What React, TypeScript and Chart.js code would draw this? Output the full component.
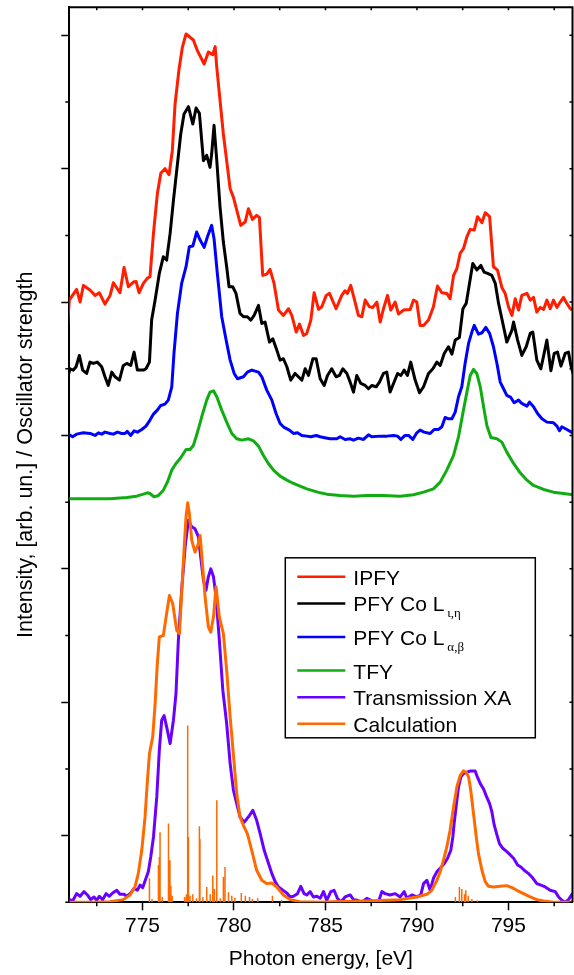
import React, { useEffect, useRef } from "react";
import { Chart, registerables } from "chart.js";

Chart.register(...registerables);

const FONT = "'Liberation Sans', Arial, Helvetica, sans-serif";

// Axis ranges and ticks
const X_MIN = 771;
const X_MAX = 798.5;
const Y_MIN = 0;
const Y_MAX = 13.42;
const X_MAJOR_TICKS = [775, 780, 785, 790, 795];
const X_MINOR_TICKS = [772.5, 777.5, 782.5, 787.5, 792.5, 797.5];
const Y_MAJOR_TICKS = [1, 3, 5, 7, 9, 11, 13];
const Y_MINOR_TICKS = [0, 2, 4, 6, 8, 10, 12];

// IPFY
const IPFY_E = [770.85, 771.0, 771.4, 771.59, 771.77, 772.13, 772.41, 772.64, 772.95, 773.23, 773.41, 773.77, 773.99, 774.23, 774.5, 774.65, 774.81, 775.05, 775.27, 775.41, 775.6, 775.81, 776.0, 776.23, 776.45, 776.63, 776.78, 777.0, 777.18, 777.38, 777.78, 778.0, 778.37, 778.6, 778.84, 778.97, 779.06, 779.42, 779.79, 779.97, 780.37, 780.61, 780.79, 781.01, 781.24, 781.39, 781.57, 781.79, 781.97, 782.19, 782.43, 782.7, 782.98, 783.16, 783.4, 783.58, 783.8, 783.98, 784.2, 784.38, 784.62, 784.8, 785.04, 785.22, 785.58, 785.89, 786.07, 786.2, 786.38, 786.57, 786.8, 786.99, 787.17, 787.4, 787.59, 787.81, 787.99, 788.17, 788.39, 788.57, 788.81, 788.99, 789.26, 789.63, 789.81, 789.99, 790.17, 790.36, 790.63, 790.9, 791.12, 791.36, 791.63, 791.81, 792.0, 792.18, 792.36, 792.54, 792.73, 792.91, 793.13, 793.31, 793.55, 793.73, 793.97, 794.18, 794.4, 794.64, 794.82, 795.0, 795.19, 795.37, 795.55, 795.73, 796.01, 796.19, 796.37, 796.55, 796.74, 796.92, 797.1, 797.28, 797.46, 797.65, 797.83, 798.01, 798.19, 798.38, 798.56];
const IPFY_I = [8.45, 9.03, 9.19, 9.0, 9.25, 9.18, 9.1, 9.14, 8.97, 9.1, 9.29, 9.14, 9.52, 9.23, 9.3, 9.31, 9.14, 9.28, 9.36, 9.38, 10.03, 10.62, 10.93, 11.0, 10.91, 11.27, 11.97, 12.5, 12.82, 13.02, 12.93, 12.77, 12.57, 12.75, 12.71, 12.83, 12.52, 11.52, 10.7, 10.57, 10.15, 10.2, 10.4, 10.24, 10.3, 10.27, 9.4, 9.42, 9.49, 9.28, 8.88, 8.8, 8.9, 8.8, 8.55, 8.67, 8.5, 8.53, 8.73, 9.14, 8.89, 8.93, 9.1, 9.13, 8.9, 9.1, 9.17, 9.13, 9.25, 9.05, 8.8, 8.78, 9.03, 8.93, 8.92, 9.0, 8.7, 8.9, 9.1, 8.88, 9.0, 8.82, 8.88, 8.89, 9.03, 9.0, 8.65, 8.65, 8.73, 8.93, 9.24, 9.14, 9.13, 9.05, 9.4, 9.5, 9.73, 9.8, 9.98, 10.09, 10.08, 10.28, 10.19, 10.34, 10.28, 9.53, 9.48, 9.22, 9.13, 8.93, 8.8, 9.05, 8.88, 9.1, 9.13, 9.03, 9.07, 8.85, 8.92, 8.89, 9.03, 8.9, 9.03, 8.92, 9.0, 9.07, 8.98, 8.9, 8.88];

// PFY Co L iota,eta
const PFYIE_E = [770.9, 771.04, 771.22, 771.37, 771.55, 771.73, 771.95, 772.13, 772.31, 772.53, 772.77, 772.95, 773.13, 773.32, 773.5, 773.74, 773.95, 774.14, 774.36, 774.54, 774.72, 775.05, 775.19, 775.38, 775.5, 775.69, 775.92, 776.14, 776.32, 776.51, 776.69, 776.91, 777.09, 777.27, 777.51, 777.75, 777.93, 778.11, 778.33, 778.51, 778.69, 778.78, 778.91, 779.06, 779.24, 779.42, 779.6, 779.73, 779.93, 780.11, 780.33, 780.52, 780.73, 780.92, 781.1, 781.34, 781.52, 781.7, 781.94, 782.12, 782.34, 782.52, 782.7, 782.89, 783.1, 783.34, 783.52, 783.71, 783.89, 784.07, 784.31, 784.49, 784.71, 784.93, 785.11, 785.34, 785.58, 785.76, 785.95, 786.17, 786.35, 786.53, 786.71, 786.93, 787.17, 787.35, 787.53, 787.77, 787.95, 788.17, 788.35, 788.53, 788.72, 788.94, 789.12, 789.3, 789.48, 789.66, 789.9, 790.14, 790.36, 790.63, 790.87, 791.09, 791.27, 791.49, 791.72, 791.91, 792.09, 792.32, 792.51, 792.69, 792.87, 793.05, 793.27, 793.49, 793.67, 793.86, 794.09, 794.28, 794.46, 794.64, 794.91, 795.19, 795.28, 795.5, 795.73, 795.97, 796.19, 796.33, 796.55, 796.77, 796.95, 797.1, 797.32, 797.5, 797.68, 797.87, 798.1, 798.28, 798.41, 798.56];
const PFYIE_I = [7.85, 8.0, 7.98, 8.03, 8.2, 7.98, 7.93, 8.1, 8.08, 8.1, 8.03, 7.88, 7.75, 7.95, 7.88, 7.83, 8.05, 8.08, 8.05, 8.25, 7.98, 7.98, 8.0, 8.1, 8.73, 9.03, 9.43, 9.68, 9.63, 10.03, 10.52, 11.07, 11.52, 11.82, 11.93, 11.67, 11.91, 11.83, 11.12, 11.2, 11.02, 11.22, 11.65, 11.12, 10.42, 9.9, 9.53, 9.23, 9.23, 9.13, 8.83, 8.78, 8.78, 8.73, 8.8, 8.95, 8.68, 8.7, 8.4, 8.45, 8.28, 8.13, 8.15, 8.03, 7.83, 7.93, 7.88, 7.83, 8.0, 7.9, 8.15, 8.15, 7.85, 7.75, 7.9, 8.0, 7.88, 7.9, 8.0, 7.93, 7.8, 7.65, 7.9, 7.78, 7.75, 7.7, 7.75, 7.73, 7.8, 7.93, 7.95, 7.65, 7.78, 7.93, 7.9, 7.98, 7.9, 8.1, 7.83, 7.64, 7.73, 7.93, 8.0, 8.1, 8.05, 8.23, 8.33, 8.22, 8.43, 8.47, 8.9, 8.98, 9.28, 9.58, 9.48, 9.55, 9.45, 9.43, 9.4, 9.28, 8.98, 8.75, 8.4, 8.58, 8.7, 8.43, 8.2, 8.33, 8.53, 8.55, 8.13, 8.0, 8.23, 8.43, 7.97, 8.23, 8.25, 8.04, 8.23, 8.25, 8.05, 7.9];

// PFY Co L alpha,beta
const PFYAB_E = [770.9, 771.18, 771.4, 771.77, 772.13, 772.41, 772.59, 772.77, 772.95, 773.23, 773.41, 773.63, 773.86, 774.05, 774.17, 774.36, 774.54, 774.72, 774.96, 775.19, 775.41, 775.6, 775.81, 776.0, 776.23, 776.41, 776.6, 776.72, 776.91, 777.14, 777.38, 777.56, 777.75, 777.96, 778.15, 778.37, 778.55, 778.78, 778.91, 779.09, 779.33, 779.57, 779.79, 780.01, 780.19, 780.52, 780.73, 780.97, 781.34, 781.52, 781.79, 782.07, 782.3, 782.52, 782.74, 783.03, 783.25, 783.47, 783.71, 783.98, 784.2, 784.49, 784.71, 784.89, 785.25, 785.62, 785.8, 786.07, 786.35, 786.53, 786.8, 787.08, 787.35, 787.53, 787.99, 788.35, 788.72, 788.94, 789.12, 789.35, 789.54, 789.77, 789.99, 790.17, 790.39, 790.72, 790.94, 791.18, 791.36, 791.54, 791.72, 791.91, 792.09, 792.27, 792.45, 792.63, 792.82, 793.0, 793.13, 793.36, 793.55, 793.76, 793.97, 794.18, 794.37, 794.55, 794.73, 794.91, 795.13, 795.31, 795.55, 795.73, 796.01, 796.15, 796.37, 796.59, 796.83, 797.1, 797.46, 797.65, 797.79, 797.92, 798.19, 798.56];
const PFYAB_I = [7.03, 6.98, 7.02, 7.04, 7.03, 7.0, 7.04, 7.02, 7.05, 7.03, 7.02, 7.05, 7.03, 7.03, 7.06, 7.0, 7.07, 7.05, 7.09, 7.14, 7.23, 7.32, 7.38, 7.45, 7.47, 7.53, 7.73, 8.23, 8.83, 9.28, 9.53, 9.83, 9.84, 10.05, 9.93, 9.82, 9.98, 10.15, 9.95, 9.43, 8.78, 8.43, 8.13, 7.93, 7.85, 7.88, 7.95, 7.98, 7.95, 7.88, 7.68, 7.53, 7.33, 7.18, 7.12, 7.08, 7.03, 7.04, 7.0, 6.99, 6.98, 7.0, 6.98, 6.97, 6.95, 6.95, 6.98, 6.94, 6.95, 6.93, 6.96, 6.94, 7.01, 6.98, 6.99, 6.99, 7.0, 6.99, 6.94, 7.0, 7.0, 6.94, 7.04, 7.08, 7.05, 7.03, 7.09, 7.09, 7.13, 7.27, 7.25, 7.25, 7.35, 7.58, 7.73, 8.08, 8.38, 8.55, 8.65, 8.52, 8.54, 8.62, 8.53, 8.33, 8.08, 7.8, 7.7, 7.6, 7.57, 7.49, 7.53, 7.48, 7.44, 7.5, 7.43, 7.33, 7.25, 7.2, 7.19, 7.14, 7.07, 7.13, 7.09, 7.03];

// TFY
const TFY_E = [770.9, 771.59, 772.31, 773.23, 774.14, 774.68, 775.05, 775.27, 775.41, 775.63, 775.87, 776.14, 776.36, 776.6, 776.83, 777.05, 777.24, 777.38, 777.6, 777.78, 777.93, 778.11, 778.29, 778.51, 778.69, 778.88, 779.06, 779.33, 779.6, 779.88, 780.15, 780.42, 780.79, 781.06, 781.34, 781.61, 781.88, 782.16, 782.52, 782.89, 783.25, 783.61, 783.98, 784.34, 784.71, 785.07, 785.8, 786.53, 787.26, 788.17, 789.08, 789.81, 790.36, 790.9, 791.27, 791.63, 792.0, 792.27, 792.54, 792.73, 792.91, 793.09, 793.27, 793.46, 793.64, 793.82, 794.04, 794.37, 794.64, 794.91, 795.28, 795.64, 796.01, 796.37, 796.92, 797.46, 798.01, 798.56];
const TFY_I = [6.05, 6.05, 6.05, 6.05, 6.07, 6.09, 6.12, 6.14, 6.13, 6.08, 6.1, 6.18, 6.3, 6.48, 6.58, 6.65, 6.73, 6.79, 6.79, 6.85, 6.98, 7.15, 7.33, 7.53, 7.65, 7.67, 7.58, 7.38, 7.2, 7.03, 6.95, 6.93, 6.95, 6.92, 6.84, 6.7, 6.58, 6.48, 6.39, 6.33, 6.28, 6.24, 6.2, 6.17, 6.14, 6.12, 6.1, 6.09, 6.1, 6.1, 6.09, 6.11, 6.15, 6.2, 6.3, 6.48, 6.7, 6.98, 7.38, 7.65, 7.9, 7.99, 7.93, 7.73, 7.43, 7.15, 6.97, 6.95, 6.9, 6.75, 6.58, 6.44, 6.33, 6.25, 6.19, 6.15, 6.13, 6.11];

// Transmission XA
const TXA_E = [770.9, 771.18, 771.4, 771.59, 771.8, 771.99, 772.17, 772.35, 772.5, 772.64, 772.82, 773.01, 773.19, 773.37, 773.59, 773.77, 773.99, 774.14, 774.36, 774.54, 774.72, 774.87, 775.01, 775.19, 775.32, 775.45, 775.6, 775.78, 775.92, 776.05, 776.18, 776.32, 776.51, 776.69, 776.83, 776.96, 777.14, 777.33, 777.51, 777.69, 777.87, 778.06, 778.18, 778.33, 778.47, 778.6, 778.73, 778.88, 779.02, 779.2, 779.39, 779.6, 779.79, 779.97, 780.15, 780.33, 780.55, 780.7, 780.84, 781.03, 781.24, 781.43, 781.65, 781.83, 782.07, 782.25, 782.43, 782.67, 782.89, 783.07, 783.25, 783.47, 783.65, 783.83, 783.98, 784.16, 784.34, 784.53, 784.71, 784.89, 785.07, 785.29, 785.47, 785.65, 785.84, 786.07, 786.35, 786.53, 786.75, 786.99, 787.26, 787.48, 787.71, 787.9, 788.08, 788.26, 788.53, 788.81, 789.08, 789.3, 789.45, 789.72, 789.99, 790.21, 790.36, 790.54, 790.72, 790.9, 791.09, 791.27, 791.49, 791.67, 791.85, 791.96, 792.03, 792.14, 792.27, 792.4, 792.54, 792.73, 792.94, 793.18, 793.27, 793.46, 793.64, 793.78, 793.97, 794.09, 794.22, 794.37, 794.51, 794.69, 794.91, 795.1, 795.28, 795.5, 795.68, 795.86, 796.1, 796.28, 796.55, 796.74, 797.01, 797.28, 797.56, 797.74, 797.92, 798.1, 798.28, 798.47, 798.59];
const TXA_I = [0.06, 0.02, 0.13, 0.09, 0.16, 0.11, 0.04, 0.08, 0.03, 0.09, 0.04, 0.13, 0.09, 0.14, 0.18, 0.12, 0.12, 0.09, 0.14, 0.21, 0.18, 0.26, 0.22, 0.36, 0.46, 0.68, 0.98, 1.58, 2.28, 2.73, 2.8, 2.63, 2.38, 2.73, 3.13, 3.93, 4.68, 5.33, 5.73, 5.63, 5.6, 5.48, 5.18, 4.83, 4.68, 4.88, 5.0, 4.88, 4.58, 3.93, 3.18, 2.68, 2.08, 1.68, 1.48, 1.28, 1.2, 1.25, 1.3, 1.38, 1.23, 1.03, 0.78, 0.63, 0.43, 0.31, 0.23, 0.18, 0.14, 0.08, 0.09, 0.13, 0.24, 0.13, 0.11, 0.16, 0.08, 0.09, 0.06, 0.16, 0.03, 0.16, 0.18, 0.06, 0.0, 0.08, 0.11, 0.04, 0.03, 0.0, 0.06, 0.03, 0.0, 0.01, 0.16, 0.13, 0.11, 0.13, 0.08, 0.16, 0.06, 0.11, 0.08, 0.11, 0.28, 0.33, 0.18, 0.36, 0.46, 0.51, 0.58, 0.66, 0.78, 0.98, 1.18, 1.43, 1.73, 1.88, 1.93, 1.95, 1.97, 1.97, 1.9, 1.78, 1.7, 1.6, 1.48, 1.36, 1.16, 1.01, 0.88, 0.81, 0.76, 0.71, 0.66, 0.56, 0.53, 0.48, 0.43, 0.38, 0.28, 0.26, 0.23, 0.18, 0.16, 0.08, 0.03, 0.0, 0.04, 0.12, 0.13];

// Calculation (broadened)
const CALC_E = [770.9, 772.31, 773.23, 773.95, 774.32, 774.59, 774.77, 774.96, 775.14, 775.27, 775.38, 775.56, 775.69, 775.81, 775.92, 776.14, 776.29, 776.47, 776.65, 776.87, 777.02, 777.14, 777.27, 777.38, 777.47, 777.56, 777.69, 777.87, 778.02, 778.15, 778.29, 778.42, 778.6, 778.73, 778.88, 779.02, 779.2, 779.42, 779.6, 779.79, 780.01, 780.15, 780.33, 780.55, 780.73, 780.97, 781.24, 781.52, 781.79, 782.07, 782.34, 782.7, 783.07, 783.61, 784.71, 785.44, 787.26, 789.08, 789.99, 790.54, 790.81, 791.09, 791.27, 791.45, 791.63, 791.81, 792.0, 792.18, 792.36, 792.54, 792.69, 792.82, 792.94, 793.09, 793.24, 793.36, 793.55, 793.73, 793.91, 794.18, 794.55, 794.91, 795.19, 795.46, 795.82, 796.19, 796.55, 796.92, 797.46, 798.59];
const CALC_I = [0.0, 0.0, 0.01, 0.04, 0.11, 0.23, 0.43, 0.78, 1.28, 1.83, 2.23, 2.48, 2.98, 3.58, 3.98, 4.0, 4.28, 4.6, 4.48, 4.08, 4.03, 4.63, 5.28, 5.78, 5.99, 5.83, 5.43, 5.25, 5.35, 5.5, 5.03, 4.58, 4.13, 4.05, 4.28, 4.73, 4.28, 4.03, 3.48, 2.78, 2.08, 1.63, 1.28, 1.13, 1.03, 0.78, 0.48, 0.33, 0.28, 0.29, 0.23, 0.11, 0.04, 0.01, 0.0, 0.01, 0.02, 0.04, 0.08, 0.12, 0.18, 0.33, 0.46, 0.63, 0.83, 1.08, 1.43, 1.73, 1.9, 1.97, 1.95, 1.88, 1.68, 1.33, 0.98, 0.73, 0.48, 0.31, 0.24, 0.23, 0.24, 0.25, 0.22, 0.18, 0.13, 0.08, 0.04, 0.02, 0.0, 0.0];

// Calculation (oscillator strength sticks)
const STICK_E = [775.38, 775.52, 775.87, 775.92, 775.96, 776.08, 776.42, 776.5, 776.55, 776.62, 777.3, 777.4, 777.47, 777.51, 777.6, 777.75, 777.95, 778.11, 778.14, 778.3, 778.51, 778.7, 778.84, 778.93, 779.06, 779.25, 779.42, 779.51, 779.7, 779.88, 780.05, 780.4, 780.62, 780.85, 781.0, 781.3, 782.1, 782.6, 792.1, 792.32, 792.45, 792.6, 792.67, 792.8, 793.0, 793.3];
const STICK_H = [0.36, 0.05, 0.56, 0.68, 1.05, 0.08, 1.18, 0.63, 0.25, 0.1, 0.08, 0.12, 2.65, 0.98, 0.1, 0.12, 0.06, 1.14, 0.95, 0.08, 0.23, 0.12, 0.4, 0.2, 1.53, 0.06, 0.38, 0.53, 0.15, 0.1, 0.07, 0.14, 0.1, 0.08, 0.05, 0.06, 0.1, 0.04, 0.08, 0.23, 0.2, 0.12, 0.18, 0.1, 0.05, 0.03];

const LEGEND_MAIN = ["IPFY", "PFY Co L", "PFY Co L", "TFY", "Transmission XA", "Calculation"];
const LEGEND_SUB = ["", "\u03B9,\u03B7", "\u03B1,\u03B2", "", "", ""];
const COLORS = ["#ff1e00", "#000000", "#0000ff", "#11ac11", "#6a00ff", "#ff6a00"];

const pts = (xs: number[], ys: number[]) => xs.map((x, i) => ({ x, y: ys[i] }));
const sticks = () =>
  STICK_E.flatMap((e, i) => [
    { x: e, y: 0 },
    { x: e, y: STICK_H[i] },
    { x: e, y: null as any },
  ]);

const framePlugin = {
  id: "frame",
  afterDraw(chart: any) {
    const { ctx, chartArea: a, scales } = chart;
    const x = scales.x;
    const y = scales.y;
    ctx.save();
    ctx.strokeStyle = "#000";
    ctx.lineWidth = 1.5;
    ctx.beginPath();
    X_MINOR_TICKS.forEach((v) => {
      const px = x.getPixelForValue(v);
      ctx.moveTo(px, a.bottom);
      ctx.lineTo(px, a.bottom + 4);
    });
    Y_MINOR_TICKS.forEach((v) => {
      const py = y.getPixelForValue(v);
      ctx.moveTo(a.left, py);
      ctx.lineTo(a.left - 4, py);
    });
    [...X_MAJOR_TICKS, ...X_MINOR_TICKS].forEach((v) => {
      const px = x.getPixelForValue(v);
      ctx.moveTo(px, a.top);
      ctx.lineTo(px, a.top + 3);
    });
    [...Y_MAJOR_TICKS, ...Y_MINOR_TICKS].forEach((v) => {
      const py = y.getPixelForValue(v);
      ctx.moveTo(a.right, py);
      ctx.lineTo(a.right - 3, py);
    });
    ctx.stroke();
    ctx.lineWidth = 2;
    ctx.beginPath();
    ctx.moveTo(a.left, a.top);
    ctx.lineTo(a.right, a.top);
    ctx.lineTo(a.right, a.bottom);
    ctx.stroke();
    ctx.restore();
  },
};

const legendPlugin = {
  id: "subLegend",
  afterDraw(chart: any) {
    const { ctx, chartArea: a } = chart;
    const left = a.left + 216;
    const top = a.top + 550.5;
    const w = 250;
    const h = 180;
    ctx.save();
    ctx.fillStyle = "#fff";
    ctx.fillRect(left, top, w, h);
    ctx.strokeStyle = "#000";
    ctx.lineWidth = 1.5;
    ctx.strokeRect(left, top, w, h);
    let rowY = top + 19;
    LEGEND_MAIN.forEach((label, i) => {
      ctx.strokeStyle = COLORS[i];
      ctx.lineWidth = 2.5;
      ctx.beginPath();
      ctx.moveTo(left + 12, rowY);
      ctx.lineTo(left + 60, rowY);
      ctx.stroke();
      ctx.fillStyle = "#000";
      ctx.font = `21px ${FONT}`;
      ctx.textBaseline = "alphabetic";
      ctx.textAlign = "left";
      ctx.fillText(label, left + 68, rowY + 8);
      const sub = LEGEND_SUB[i];
      if (sub) {
        const w0 = ctx.measureText(label).width;
        ctx.font = "13px 'Liberation Serif', 'DejaVu Serif', serif";
        ctx.fillText(sub, left + 68 + w0 + 3, rowY + 14);
      }
      rowY += 26.6 + (sub ? 7 : 0);
    });
    ctx.restore();
  },
};

export default function App() {
  const ref = useRef<HTMLCanvasElement>(null);
  useEffect(() => {
    const canvas = ref.current;
    if (!canvas) return;
    const line = (i: number, xs: number[], ys: number[], order: number) => ({
      type: "line" as const,
      label: LEGEND_MAIN[i] + (LEGEND_SUB[i] ? " " + LEGEND_SUB[i] : ""),
      data: pts(xs, ys),
      borderColor: COLORS[i],
      backgroundColor: COLORS[i],
      borderWidth: 3,
      pointRadius: 0,
      tension: 0,
      fill: false,
      borderJoinStyle: "round" as const,
      order,
    });
    const chart = new Chart(canvas, {
      type: "line",
      data: {
        datasets: [
          line(0, IPFY_E, IPFY_I, 5),
          line(1, PFYIE_E, PFYIE_I, 4),
          line(2, PFYAB_E, PFYAB_I, 3),
          line(3, TFY_E, TFY_I, 2),
          line(4, TXA_E, TXA_I, 1),
          line(5, CALC_E, CALC_I, 0),
          {
            type: "line",
            label: "Calculation sticks",
            data: sticks(),
            borderColor: COLORS[5],
            borderWidth: 1.5,
            pointRadius: 0,
            spanGaps: false,
            fill: false,
            order: 10,
          } as any,
        ],
      },
      options: {
        responsive: false,
        animation: false,
        devicePixelRatio: 1,
        events: [],
        layout: { padding: { left: 0, right: 1.5, top: 7.3, bottom: 0 } },
        plugins: { legend: { display: false }, tooltip: { enabled: false } },
        scales: {
          x: {
            type: "linear",
            min: X_MIN,
            max: X_MAX,
            afterBuildTicks: (s: any) => {
              s.ticks = X_MAJOR_TICKS.map((v) => ({ value: v }));
            },
            afterFit: (s: any) => {
              s.height = 72.7;
            },
            grid: { drawOnChartArea: false, drawTicks: true, tickLength: 8, tickWidth: 1.5, tickColor: "#000" },
            border: { display: true, color: "#000", width: 2 },
            ticks: { color: "#000", font: { family: FONT, size: 21 }, padding: 3, maxRotation: 0 },
            title: {
              display: true,
              text: "Photon energy, [eV]",
              color: "#000",
              font: { family: FONT, size: 21 },
              padding: { top: 0, bottom: 3 },
            },
          },
          y: {
            type: "linear",
            min: Y_MIN,
            max: Y_MAX,
            afterBuildTicks: (s: any) => {
              s.ticks = Y_MAJOR_TICKS.map((v) => ({ value: v }));
            },
            afterFit: (s: any) => {
              s.width = 69.3;
            },
            grid: { drawOnChartArea: false, drawTicks: true, tickLength: 8, tickWidth: 1.5, tickColor: "#000" },
            border: { display: true, color: "#000", width: 2 },
            ticks: { display: false },
            title: {
              display: true,
              text: "Intensity, [arb. un.] / Oscillator strength",
              color: "#000",
              font: { family: FONT, size: 21.5 },
              padding: { top: 13, bottom: 0 },
            },
          },
        },
      },
      plugins: [framePlugin, legendPlugin],
    });
    return () => chart.destroy();
  }, []);
  return (
    <div style={{ position: "absolute", left: 0, top: 0, width: 574, height: 975, background: "#fff" }}>
      <canvas ref={ref} width={574} height={975} style={{ display: "block", width: 574, height: 975 }} />
    </div>
  );
}
